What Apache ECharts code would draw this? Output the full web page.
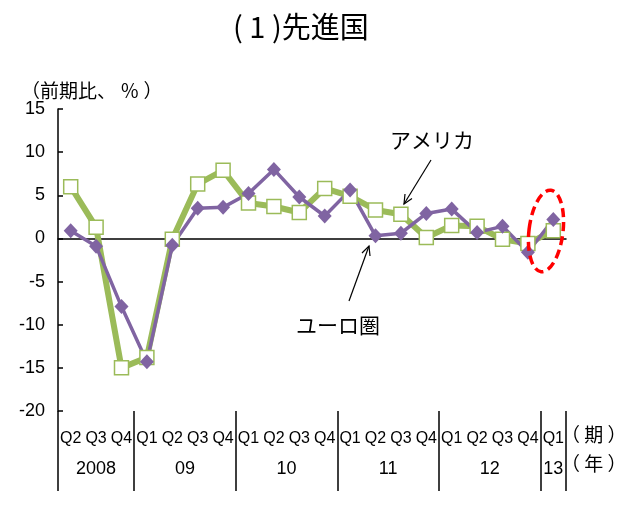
<!DOCTYPE html>
<html>
<head>
<meta charset="utf-8">
<script src="https://cdn.jsdelivr.net/npm/echarts@6/dist/echarts.min.js"></script>
<style>
html,body{margin:0;padding:0;background:#fff;}
#main{width:629px;height:510px;}
</style>
</head>
<body>
<div id="main"></div>
<script>
// 四半期ラベル
var quarters = ['Q2','Q3','Q4','Q1','Q2','Q3','Q4','Q1','Q2','Q3','Q4','Q1','Q2','Q3','Q4','Q1','Q2','Q3','Q4','Q1'];
// 年ラベルと各年の四半期数
var years = ['2008','09','10','11','12','13'];
var yearSpans = [3,4,4,4,4,1];
// 前期比（％）
var euro = [6.0, 1.3, -15.0, -13.8, -0.1, 6.3, 7.9, 4.1, 3.7, 3.0, 5.8, 4.9, 3.3, 2.8, 0.1, 1.5, 1.4, -0.1, -0.6, 0.9];
var usa = [0.9, -0.9, -7.9, -14.3, -0.8, 3.5, 3.6, 5.2, 8.0, 4.8, 2.6, 5.6, 0.3, 0.6, 2.9, 3.4, 0.7, 1.4, -1.6, 2.2];
var yTicks = {min: -20, max: 15, interval: 5};

var FONT = '"Liberation Sans","Noto Sans CJK JP",sans-serif';
var JP = '"Noto Sans CJK JP","Liberation Sans",sans-serif';

// 年軸：半四半期刻み（boundaryGap false）で区切り線とラベル位置を作る
var halfSlots = [];
var yearLabelAt = {};
var dividerAt = {0: true};
var pos = 0;
for (var i = 0; i < years.length; i++) {
    yearLabelAt[pos + yearSpans[i]] = years[i];
    pos += yearSpans[i] * 2;
    dividerAt[pos] = true;
}
for (var k = 0; k <= quarters.length * 2; k++) {
    halfSlots.push('s' + k);
}

var myChart = echarts.init(document.getElementById('main'));
var option = {
    animation: false,
    backgroundColor: '#fff',
    title: [
        {text: '( 1 )先進国', left: 228, top: 7, textStyle: {fontFamily: JP, fontSize: 29, fontWeight: 'normal', color: '#000'}},
        {text: '（前期比、 ％ ）', left: 16, top: 76, textStyle: {fontFamily: JP, fontSize: 19, fontWeight: 'normal', color: '#000'}}
    ],
    grid: {left: 58, right: 63, top: 109, bottom: 99, containLabel: false},
    xAxis: [
        {
            type: 'category',
            data: quarters,
            position: 'bottom',
            boundaryGap: true,
            axisLine: {show: false, onZero: false},
            axisTick: {show: false},
            axisLabel: {interval: 0, margin: 20, fontFamily: FONT, fontSize: 16, color: '#000'}
        },
        {
            type: 'category',
            data: halfSlots,
            position: 'bottom',
            boundaryGap: false,
            axisLine: {show: false, onZero: false},
            axisTick: {
                show: true,
                length: 80,
                interval: function (idx) { return !!dividerAt[idx]; },
                lineStyle: {color: '#000', width: 1.5}
            },
            axisLabel: {
                interval: 0,
                margin: 49,
                fontFamily: FONT, fontSize: 18, color: '#000',
                formatter: function (v, idx) { return yearLabelAt[idx] || ''; }
            }
        },
        {
            type: 'category',
            data: quarters,
            position: 'bottom',
            axisLine: {show: true, onZero: true, lineStyle: {color: '#000', width: 1.5}},
            axisTick: {show: false},
            axisLabel: {show: false}
        }
    ],
    yAxis: {
        type: 'value',
        min: yTicks.min,
        max: yTicks.max,
        interval: yTicks.interval,
        axisLine: {show: true, onZero: false, lineStyle: {color: '#000', width: 1.5}},
        axisTick: {show: true, inside: true, length: 5, lineStyle: {color: '#000', width: 1.5}},
        splitLine: {show: false},
        axisLabel: {margin: 13, fontFamily: FONT, fontSize: 18, color: '#000'}
    },
    series: [
        {
            name: 'ユーロ圏',
            type: 'line',
            data: euro,
            symbol: 'rect',
            symbolSize: 14,
            lineStyle: {color: '#9BBB59', width: 6},
            itemStyle: {color: '#fff', borderColor: '#9BBB59', borderWidth: 1.5}
        },
        {
            name: 'アメリカ',
            type: 'line',
            data: usa,
            symbol: 'diamond',
            symbolSize: [14, 15],
            lineStyle: {color: '#8064A2', width: 3.5},
            itemStyle: {color: '#8064A2'}
        }
    ],
    graphic: [
        {type: 'text', left: 390, top: 130, style: {text: 'アメリカ', font: '21px ' + JP, fill: '#000'}},
        {type: 'text', left: 296, top: 315, style: {text: 'ユーロ圏', font: '21px ' + JP, fill: '#000'}},
        {type: 'text', left: 561, top: 425, style: {text: '（ 期 ）', font: '19px ' + JP, fill: '#000'}},
        {type: 'text', left: 561, top: 454, style: {text: '（ 年 ）', font: '19px ' + JP, fill: '#000'}},
        {type: 'line', shape: {x1: 431, y1: 160, x2: 404, y2: 204}, style: {stroke: '#000', lineWidth: 1.2}},
        {type: 'polyline', shape: {points: [[412, 198.5], [404, 204], [405, 194]]}, style: {stroke: '#000', lineWidth: 1.2, fill: null}},
        {type: 'line', shape: {x1: 349, y1: 301, x2: 369, y2: 246}, style: {stroke: '#000', lineWidth: 1.2}},
        {type: 'polyline', shape: {points: [[362, 253], [369, 246], [370, 256]]}, style: {stroke: '#000', lineWidth: 1.2, fill: null}},
        {
            type: 'ellipse',
            x: 546, y: 231,
            rotation: -0.12,
            shape: {cx: 0, cy: 0, rx: 17, ry: 41},
            style: {stroke: '#FF0000', lineWidth: 3.5, lineDash: [9, 5], fill: null},
            z: 10
        }
    ]
};
myChart.setOption(option);
</script>
</body>
</html>
